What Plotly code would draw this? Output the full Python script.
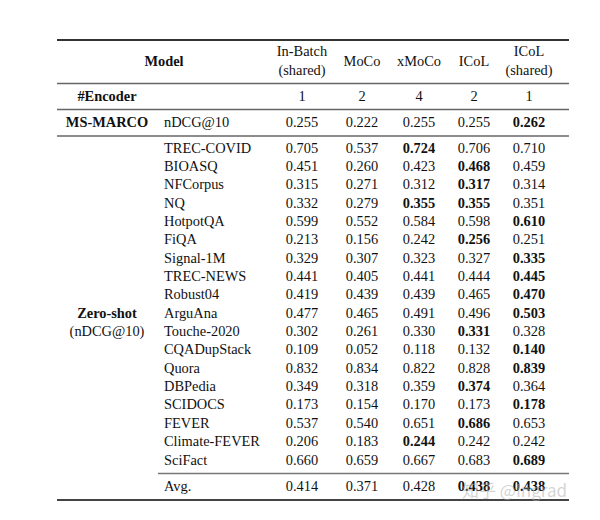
import plotly.graph_objects as go

# ---------------- data ----------------
models = ["In-Batch<br>(shared)", "MoCo", "xMoCo", "ICoL", "ICoL<br>(shared)"]
encoders = ["1", "2", "4", "2", "1"]
msmarco = [0.255, 0.222, 0.255, 0.255, 0.262]
datasets = ["TREC-COVID", "BIOASQ", "NFCorpus", "NQ", "HotpotQA", "FiQA", "Signal-1M",
            "TREC-NEWS", "Robust04", "ArguAna", "Touche-2020", "CQADupStack", "Quora",
            "DBPedia", "SCIDOCS", "FEVER", "Climate-FEVER", "SciFact"]
in_batch = [0.705, 0.451, 0.315, 0.332, 0.599, 0.213, 0.329, 0.441, 0.419, 0.477, 0.302,
            0.109, 0.832, 0.349, 0.173, 0.537, 0.206, 0.660]
moco = [0.537, 0.260, 0.271, 0.279, 0.552, 0.156, 0.307, 0.405, 0.439, 0.465, 0.261,
        0.052, 0.834, 0.318, 0.154, 0.540, 0.183, 0.659]
xmoco = [0.724, 0.423, 0.312, 0.355, 0.584, 0.242, 0.323, 0.441, 0.439, 0.491, 0.330,
         0.118, 0.822, 0.359, 0.170, 0.651, 0.244, 0.667]
icol = [0.706, 0.468, 0.317, 0.355, 0.598, 0.256, 0.327, 0.444, 0.465, 0.496, 0.331,
        0.132, 0.828, 0.374, 0.173, 0.686, 0.242, 0.683]
icol_shared = [0.710, 0.459, 0.314, 0.351, 0.610, 0.251, 0.335, 0.445, 0.470, 0.503, 0.328,
               0.140, 0.839, 0.364, 0.178, 0.653, 0.242, 0.689]
avg = [0.414, 0.371, 0.428, 0.438, 0.438]

# ---------------- layout constants ----------------
FONT = "Liberation Serif"
FS = 14.4
INK = "#111111"
OFF = 8  # page body margin compensation
col_x = [302, 362, 419, 474, 529]
label_x = 107
name_x = 164
row0_y = 149
row_step = 18.35
header_y = 62
enc_y = 97.5
ms_y = 123
avg_y = 487
L, R = 57, 569

columns = [in_batch, moco, xmoco, icol, icol_shared]
row_y = [row0_y + i * row_step for i in range(len(datasets))]

def fmt(v, bold):
    s = f"{v:.3f}"
    return f"<b>{s}</b>" if bold else s

fig = go.Figure()

def text_trace(xs, ys, texts, pos="middle center"):
    fig.add_trace(go.Scatter(x=xs, y=ys, text=texts, mode="text", textposition=pos,
                             textfont=dict(family=FONT, size=FS, color=INK),
                             hoverinfo="skip", showlegend=False, cliponaxis=False))

# header
text_trace([name_x], [header_y], ["<b>Model</b>"])
text_trace(col_x, [header_y] * 5, models)
text_trace([label_x], [enc_y], ["<b>#Encoder</b>"])
text_trace(col_x, [enc_y] * 5, encoders)
text_trace([label_x], [ms_y], ["<b>MS-MARCO</b>"])
text_trace([name_x], [ms_y], ["nDCG@10"], pos="middle right")
ms_max = max(msmarco)
text_trace(col_x, [ms_y] * 5, [fmt(v, v == ms_max) for v in msmarco])

# zero-shot block
mid = (row_y[9] + row_y[10]) / 2
text_trace([label_x, label_x], [mid - 9, mid + 9], ["<b>Zero-shot</b>", "(nDCG@10)"])
text_trace([name_x] * len(datasets), row_y, datasets, pos="middle right")
for j, col in enumerate(columns):
    texts = []
    for i, v in enumerate(col):
        rmax = max(c[i] for c in columns)
        texts.append(fmt(v, v == rmax))
    text_trace([col_x[j]] * len(col), row_y, texts)

text_trace([name_x], [avg_y], ["Avg."], pos="middle right")
amax = max(avg)
text_trace(col_x, [avg_y] * 5, [fmt(v, v == amax) for v in avg])

# rules
shapes = []
def hline(x0, x1, y, w, c):
    shapes.append(dict(type="line", xref="x", yref="y", x0=x0, x1=x1, y0=y, y1=y,
                       line=dict(color=c, width=w)))
hline(L, R, 40, 2, "#333333")
hline(L, R, 83.5, 1.3, "#666666")
hline(L, R, 109.5, 1.3, "#666666")
hline(L, R, 136, 1.3, "#666666")
hline(158, R, 473.5, 1.3, "#777777")
hline(L, R, 500, 2, "#444444")

# watermark
fig.add_annotation(x=514, y=489, xref="x", yref="y", text="知乎 @Ingrad", showarrow=False,
                   font=dict(family="Noto Sans CJK SC", size=17, color="rgba(170,170,170,0.5)"))

fig.update_layout(width=600, height=520, margin=dict(l=0, r=0, t=0, b=0),
                  paper_bgcolor="white", plot_bgcolor="white", shapes=shapes,
                  xaxis=dict(range=[OFF, 600 + OFF], visible=False, fixedrange=True),
                  yaxis=dict(range=[520 + OFF, OFF], visible=False, fixedrange=True))

fig.write_html("out.html")
